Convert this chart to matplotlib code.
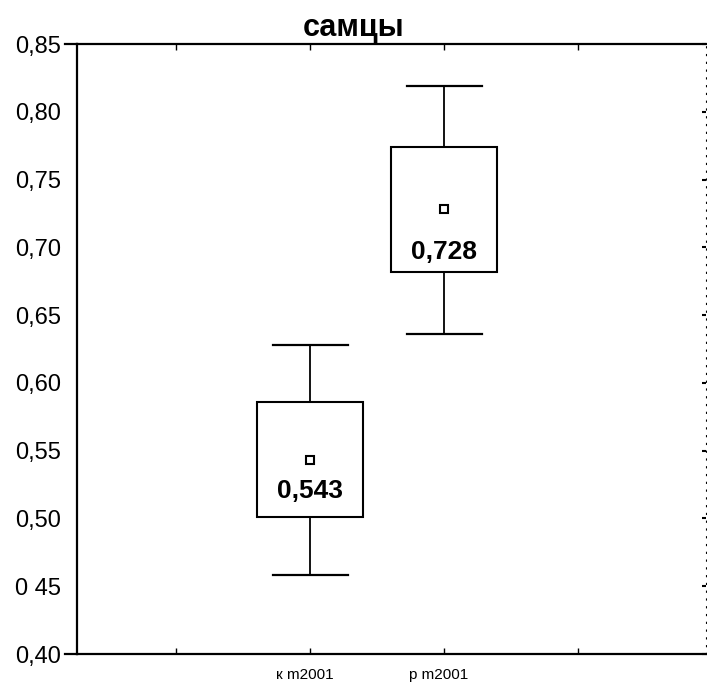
import matplotlib
matplotlib.use("Agg")
import matplotlib.pyplot as plt
from matplotlib.patches import Rectangle
import matplotlib.transforms as mtrans

plt.rcParams['font.family'] = ['Liberation Sans', 'DejaVu Sans']

categories = ["к m2001", "p m2001"]
means = [0.543, 0.728]
box_low = [0.501, 0.682]
box_high = [0.586, 0.774]
whisk_low = [0.458, 0.636]
whisk_high = [0.628, 0.819]
mean_labels = ["0,543", "0,728"]
yticks = [0.40, 0.45, 0.50, 0.55, 0.60, 0.65, 0.70, 0.75, 0.80, 0.85]
ytick_labels = ["0,40", "0 45", "0,50", "0,55", "0,60", "0,65", "0,70", "0,75", "0,80", "0,85"]

positions = [2, 3]
label_offsets_px = [-31, -43]
box_w = 0.79
cap_w = 0.56

fig = plt.figure(figsize=(7.07, 6.84), dpi=100)
ax = fig.add_axes([77/707, 1-654/684, (706-77)/707, (654-44)/684])

for i, p in enumerate(positions):
    ax.add_patch(Rectangle((p - box_w/2, box_low[i]), box_w, box_high[i]-box_low[i],
                           facecolor='white', edgecolor='black', lw=1.5, zorder=2))
    ax.plot([p, p], [box_high[i], whisk_high[i]], color='black', lw=1.3, zorder=2)
    ax.plot([p, p], [whisk_low[i], box_low[i]], color='black', lw=1.3, zorder=2)
    ax.plot([p - cap_w/2, p + cap_w/2], [whisk_high[i]]*2, color='black', lw=1.6, zorder=2)
    ax.plot([p - cap_w/2, p + cap_w/2], [whisk_low[i]]*2, color='black', lw=1.6, zorder=2)
    ax.plot([p], [means[i]], marker='s', ms=6, mfc='white', mec='black', mew=1.5, zorder=3)
    ax.annotate(mean_labels[i], (p, means[i]), xytext=(0, label_offsets_px[i]*0.72),
                textcoords='offset points', ha='center', va='center',
                fontsize=19, fontweight='bold', zorder=4)

ax.set_xlim(1 - 99.5/134, 4 + 128/134)
ax.set_ylim(0.40, 0.85)

ax.set_yticks(yticks)
ax.set_yticklabels(ytick_labels, fontsize=17)
ax.tick_params(axis='y', left=False, right=True, direction='in', length=3, width=1.5, pad=11.5)

ax.set_xticks([1, 2, 3, 4])
ax.set_xticklabels(["", categories[0], categories[1], ""], fontsize=11)
ax.tick_params(axis='x', bottom=True, top=True, direction='in', length=4, width=1, pad=10)
for lbl in ax.get_xticklabels():
    lbl.set_transform(lbl.get_transform() + mtrans.ScaledTranslation(-6/100, 0, fig.dpi_scale_trans))

for s in ['left', 'bottom', 'top']:
    ax.spines[s].set_linewidth(1.6)
ax.spines['right'].set_linewidth(0.8)
ax.spines['right'].set_linestyle((0, (1, 6)))

# spine extensions to the left of the left axis at top and bottom
for yv in (0.0, 1.0):
    ax.plot([-12/629, 0], [yv, yv], transform=ax.transAxes, color='black', lw=1.6, clip_on=False)

fig.text(354/707, 1-28/684, "самцы", ha='center', va='center', fontsize=22, fontweight='bold')

fig.savefig("out.png", dpi=100)
